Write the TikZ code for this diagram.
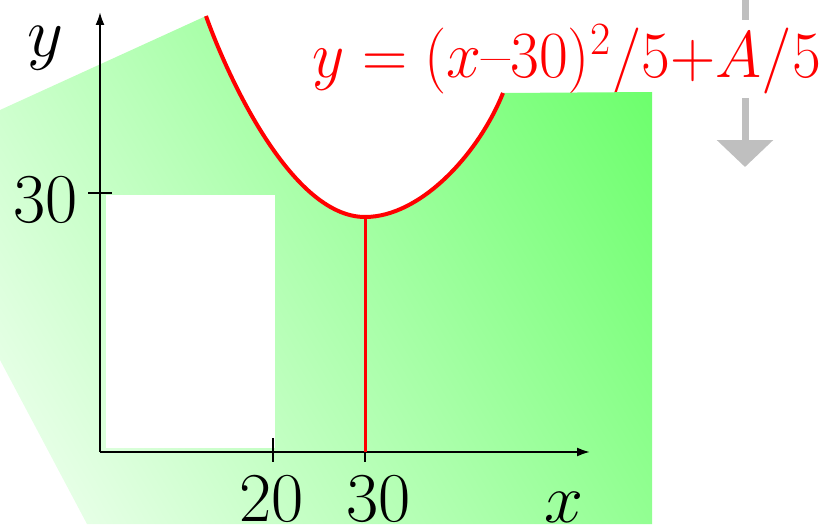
\documentclass[tikz,border=0pt]{standalone}
\usepackage{fix-cm}
\usetikzlibrary{arrows.meta}
\begin{document}
\begin{tikzpicture}[x=0.5pt, y=-0.5pt,
    lbl/.style={inner sep=0pt, font=\fontsize{35}{42}\selectfont},
    axis/.style={line width=1pt, -{Latex[length=6.5pt, width=4.5pt]}},
    tick/.style={line width=1pt},
    curve/.style={red, line width=2pt}]
  \useasboundingbox (0,0) rectangle (823,524);
  \coordinate (O) at (100,452);
  \coordinate (Ytop) at (100,12);
  \coordinate (Xend) at (590,452);
  \coordinate (V) at (365,217);
  \coordinate (Pl) at (206,16);
  \coordinate (Pr) at (503,93);
  \coordinate (G1) at (745,0);
  \coordinate (G2) at (745,167);
  \draw[black!25, line width=3.5pt, -{Triangle[length=13.5pt, width=27.5pt]}] (G1) -- (G2);
  \node[red, fill=white, inner xsep=0pt, inner ysep=2pt, anchor=base west,
    font=\fontsize{33}{40}\selectfont] (eq) at (312,78)
    {\scalebox{0.95}[1]{$y = (x\mbox{--}30)^2/5{+}A/5$}};
  % green region, shaded from lower left to upper right
  \begin{scope}
    \clip (0,110) -- (Pl) .. controls (225,70) and (290,217) .. (V)
      .. controls (420,217) and (478,155) .. (Pr) -- (652,92) -- (652,524)
      -- (87,524) -- (0,360) -- cycle;
    \begin{scope}[transform canvas={rotate around={30.5:(0,524)}}]
      \shade[left color=green!5, right color=green!60] (0,924) rectangle (820,74);
    \end{scope}
  \end{scope}
  \fill[white] (106,195) rectangle (275,448);
  \draw[axis] (O) -- (Ytop);
  \draw[axis] (O) -- (Xend);
  \draw[tick] (88,193) -- (112,193);
  \draw[tick] (273,438) -- (273,462);
  \draw[tick] (365,452) -- (365,462);
  \draw[red, line width=1.5pt] (V) -- (V |- O);
  \draw[curve] (Pl) .. controls (225,70) and (290,217) .. (V)
    .. controls (420,217) and (478,155) .. (Pr);
  \node[lbl, anchor=base] (ylab) at (45,57) {$y$};
  \node[lbl, anchor=base] (y30) at (45.5,222) {30};
  \node[lbl, anchor=base] (x20) at (271.5,521) {20};
  \node[lbl, anchor=base] (x30) at (378.5,521) {30};
  \node[lbl, anchor=base] (xlab) at (563.5,522) {$x$};
\end{tikzpicture}
\end{document}
